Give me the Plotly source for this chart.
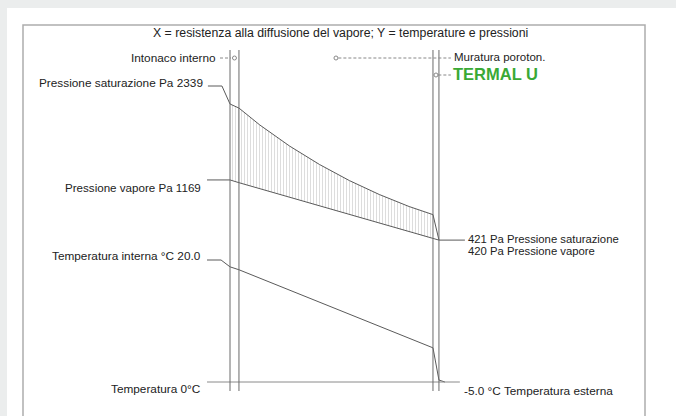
import plotly.graph_objects as go

# ---------------- data ----------------
# layer boundaries along the vapour-diffusion-resistance axis (arbitrary units)
layer_bounds = [0.0, 0.3, 6.8, 7.0]
layer_names = ["Intonaco interno", "Muratura poroton.", "TERMAL U"]

# saturation pressure (Pa)
sat_x = [-0.74, -0.27, 0.0, 0.3, 1.0, 2.0, 3.0, 4.0, 5.0, 6.0, 6.8, 7.0]
sat_p = [2339, 2339, 2115, 2064, 1853, 1590, 1361, 1161, 988, 838, 737, 421]

# vapour pressure (Pa)
vap_x = [-0.77, 0.0, 0.3, 6.8, 7.0, 7.87]
vap_p = [1169, 1169, 1135, 434, 420, 420]

# temperature (°C)
tmp_x = [-0.77, -0.3, 0.0, 0.3, 6.8, 7.0, 7.2]
tmp_t = [20.0, 20.0, 18.6, 18.0, 2.0, -4.6, -5.0]

# reference (external) temperature line
base_x = [-0.77, 7.7]
base_t = [-5.0, -5.0]

# ---------------- figure ----------------
W, H = 676, 416
LINE = "#5a5a5a"
TXT = "#222222"
FONT = "Liberation Sans, Arial, sans-serif"

# axis calibration (px per unit)
X0_PX, X_SCALE = 230, 29.85
P_REF, P_REF_PX, P_SCALE = 2339, 86, 0.0803
T_REF, T_REF_PX, T_SCALE = 20, 260, 4.88


def px(x):
    return x / W


def py(y):
    return 1 - y / H


def p_at(ypx):
    return P_REF + (P_REF_PX - ypx) / P_SCALE


fig = go.Figure()

# hatched area between saturation and vapour pressure
i_end = sat_x.index(6.8)
poly_x = sat_x[2:i_end + 1] + [vap_x[3], vap_x[2], vap_x[1]]
poly_y = sat_p[2:i_end + 1] + [vap_p[3], vap_p[2], vap_p[1]]
fig.add_trace(go.Scatter(
    x=poly_x, y=poly_y, mode="lines", fill="toself", line=dict(width=0),
    fillcolor="white",
    fillpattern=dict(shape="|", fgcolor="#bcbcbc", bgcolor="white", size=3, solidity=0.35),
    hoverinfo="skip", showlegend=False))

fig.add_trace(go.Scatter(x=sat_x, y=sat_p, mode="lines",
                         line=dict(color=LINE, width=1), showlegend=False))
fig.add_trace(go.Scatter(x=vap_x, y=vap_p, mode="lines",
                         line=dict(color=LINE, width=1), showlegend=False))
fig.add_trace(go.Scatter(x=tmp_x, y=tmp_t, mode="lines", yaxis="y2",
                         line=dict(color=LINE, width=1), showlegend=False))
fig.add_trace(go.Scatter(x=base_x, y=base_t, mode="lines", yaxis="y2",
                         line=dict(color="#8a8a8a", width=1), showlegend=False))

# layer mid-point markers
mids = [(layer_bounds[i] + layer_bounds[i + 1]) / 2 for i in range(3)]
row_y = [p_at(58), p_at(58), p_at(75)]
fig.add_trace(go.Scatter(x=mids, y=row_y, mode="markers",
                         marker=dict(size=4, color="white", line=dict(color="#888", width=1)),
                         showlegend=False))

shapes = []
# white card over grey page
shapes.append(dict(type="rect", xref="paper", yref="paper", x0=px(7), x1=1.01, y0=-0.01, y1=py(8),
                   fillcolor="white", line=dict(width=0), layer="below"))
# frame (left, top, right)
shapes.append(dict(type="path", xref="paper", yref="paper",
                   path=f"M {px(23)},{-0.01} L {px(23)},{py(25)} L {px(645)},{py(25)} L {px(645)},{-0.01}",
                   line=dict(color="#adadad", width=1.5), layer="below"))
# layer boundaries
for b in layer_bounds:
    shapes.append(dict(type="line", xref="x", yref="paper", x0=b, x1=b, y0=py(391), y1=py(50),
                       line=dict(color="#6a6a6a", width=1)))
# dashed leaders to layer labels
shapes.append(dict(type="line", xref="paper", yref="y", x0=px(220), x1=px(231), y0=row_y[0], y1=row_y[0],
                   line=dict(color="#888", width=1, dash="3px,2px")))
shapes.append(dict(type="line", xref="x", yref="y", x0=mids[1] + 0.08, x1=7.4, y0=row_y[1], y1=row_y[1],
                   line=dict(color="#888", width=1, dash="3px,2px")))
shapes.append(dict(type="line", xref="x", yref="y", x0=mids[2] + 0.08, x1=7.4, y0=row_y[2], y1=row_y[2],
                   line=dict(color="#888", width=1, dash="3px,2px")))
fig.update_layout(shapes=shapes)

ann = []


def add(text, x, y, xa, size=11.8, color=TXT, bold=False, fam=FONT):
    ann.append(dict(text=f"<b>{text}</b>" if bold else text, x=px(x), y=py(y), xref="paper", yref="paper",
                    xanchor=xa, yanchor="middle", showarrow=False,
                    font=dict(size=size, color=color, family=fam)))


add("X = resistenza alla diffusione del vapore; Y = temperature e pressioni", 340, 33, "center", size=12.3)
add(layer_names[0], 218, 58, "right")
add(layer_names[1], 452, 57, "left", size=11.5)
add(layer_names[2], 451, 74, "left", size=16.5, color="#3aa935", bold=True)
add(f"Pressione saturazione Pa {sat_p[0]}", 205, 83, "right")
add(f"Pressione vapore Pa {vap_p[0]}", 203, 187, "right", size=11.6)
add(f"Temperatura interna °C {tmp_t[0]:.1f}", 203, 256, "right")
add("Temperatura 0°C", 203, 389, "right")
add(f"{sat_p[-1]} Pa Pressione saturazione", 466, 239, "left", size=11.3)
add(f"{vap_p[-1]} Pa Pressione vapore", 466, 251, "left", size=11.3)
add(f"{tmp_t[-1]:.1f} °C Temperatura esterna", 462, 391, "left")

fig.update_layout(
    annotations=ann,
    width=W, height=H,
    margin=dict(l=0, r=0, t=0, b=0),
    paper_bgcolor="#ebeded",
    plot_bgcolor="rgba(0,0,0,0)",
    xaxis=dict(range=[-X0_PX / X_SCALE, (W - X0_PX) / X_SCALE], visible=False, fixedrange=True),
    yaxis=dict(range=[p_at(H), p_at(0)], visible=False, fixedrange=True),
    yaxis2=dict(range=[T_REF - (H - T_REF_PX) / T_SCALE, T_REF + T_REF_PX / T_SCALE],
                visible=False, overlaying="y", fixedrange=True),
    showlegend=False,
)

fig.write_html("out.html", config={"displayModeBar": False, "staticPlot": True},
               post_script="document.body.style.margin='0px';document.body.style.overflow='hidden';")
